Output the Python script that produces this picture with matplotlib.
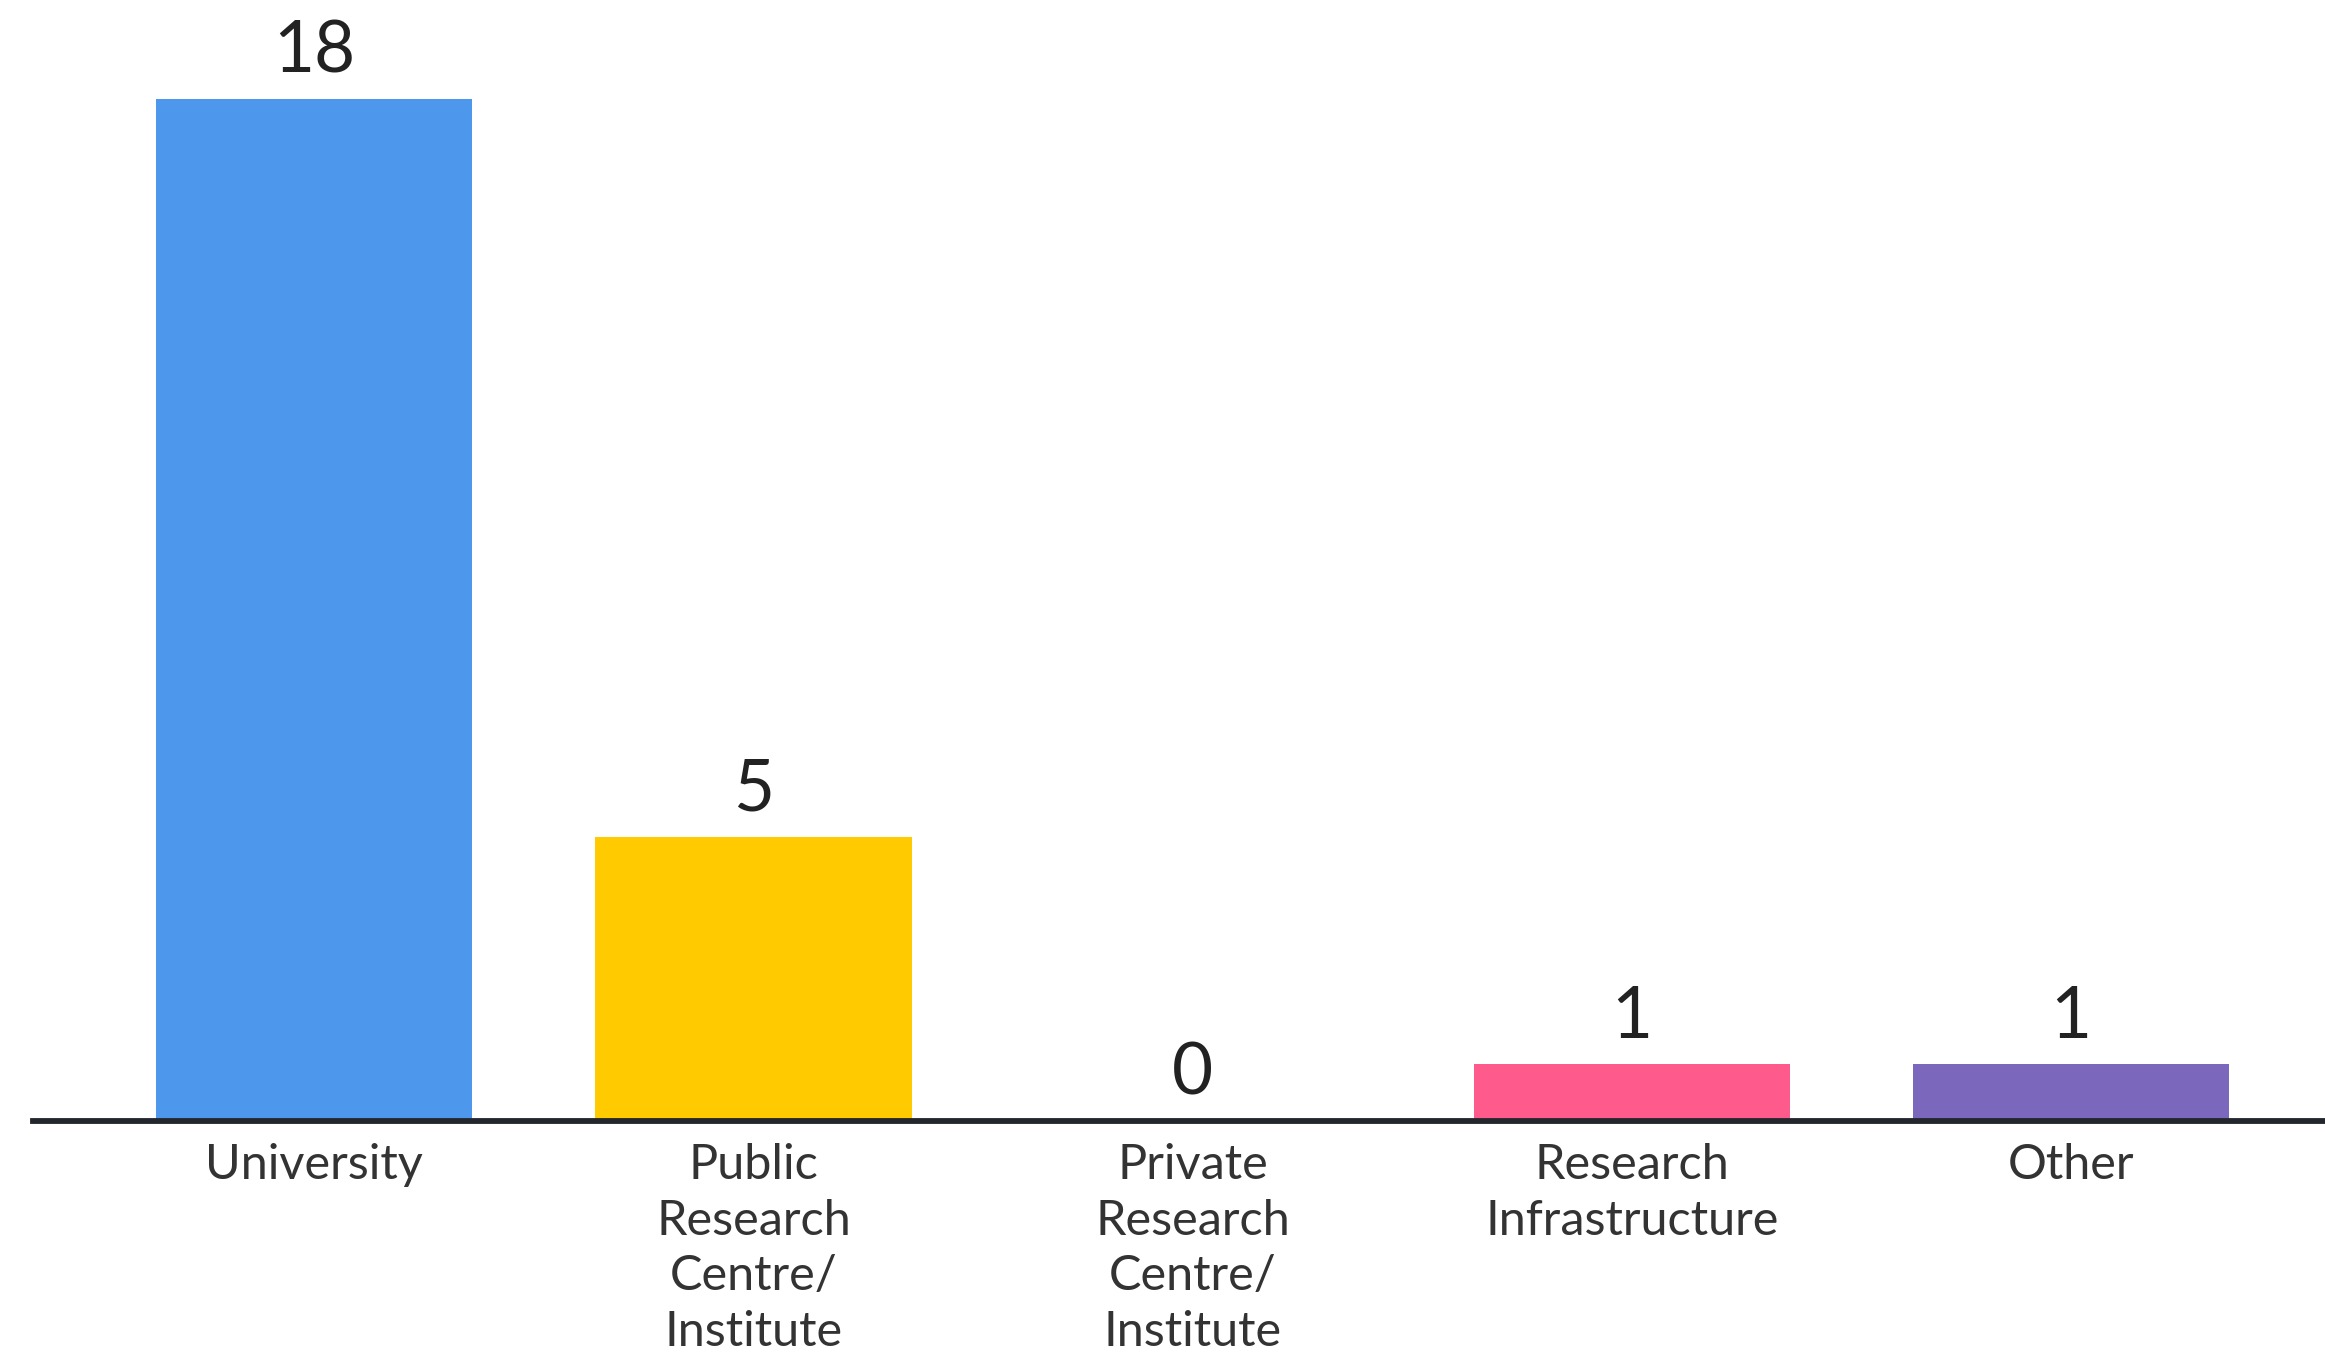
import matplotlib
matplotlib.use("Agg")
import matplotlib.pyplot as plt

categories = ["University", "Public\nResearch\nCentre/\nInstitute", "Private\nResearch\nCentre/\nInstitute",
              "Research\nInfrastructure", "Other"]
values = [18, 5, 0, 1, 1]
colors = ["#4D98EC", "#FFCB00", "#FFFFFF", "#FF5A8C", "#7B68BD"]

plt.rcParams['font.family'] = ['Lato', 'DejaVu Sans']

fig = plt.figure(figsize=(23.25, 13.52), dpi=100)
ax = fig.add_axes([0.0142, 0.171, 0.9858, 0.927 - 0.171])

x = list(range(len(categories)))
ax.bar(x, values, width=0.72, color=colors, zorder=2)
ax.set_xlim(-0.64, 4.578)
ax.set_ylim(0, 18)

for xi, v in zip(x, values):
    ax.annotate(str(v), (xi, v), xytext=(0, 19), textcoords="offset points",
                ha="center", va="baseline", fontsize=51, color="#222222")

for s in ["top", "right", "left"]:
    ax.spines[s].set_visible(False)
ax.spines["bottom"].set_linewidth(4.2)
ax.spines["bottom"].set_color("#23272D")
ax.set_yticks([])
ax.set_xticks(x)
ax.set_xticklabels(categories, fontsize=35, color="#333333", linespacing=1.32)
ax.tick_params(axis="x", length=0, pad=16)

fig.savefig("out.png", dpi=100, facecolor="white")
